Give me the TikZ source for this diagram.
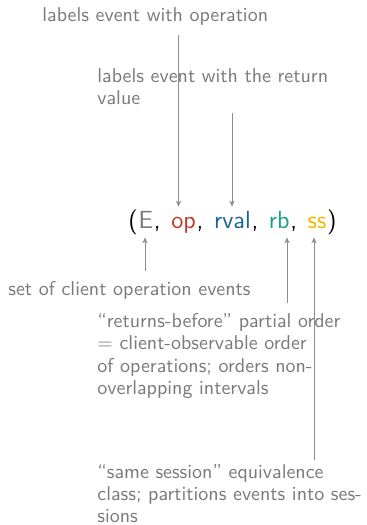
\documentclass[tikz,border=0pt]{standalone}
\usetikzlibrary{arrows.meta}
\definecolor{labelgray}{HTML}{7A7A7A}
\definecolor{linegray}{HTML}{8C8C8C}
\definecolor{opred}{HTML}{C0392B}
\definecolor{rvalblue}{HTML}{1A6496}
\definecolor{rbgreen}{HTML}{16A085}
\definecolor{ssgold}{HTML}{F5B400}
\newcommand{\tuplesep}{,\kern4.9pt}
\begin{document}
\begin{tikzpicture}[x=0.5pt,y=-0.5pt,
  note/.style={font=\sffamily\fontsize{10}{11.15}\selectfont, text=labelgray,
    anchor=base west, inner sep=0pt, align=left},
  block/.style={note, anchor=north west},
  term/.style={font=\sffamily\fontsize{12.4}{14}\selectfont, anchor=base west,
    inner sep=0pt, text height=10.5pt, text depth=4.5pt},
  pointer/.style={draw=linegray, line width=0.5pt,
    -{Stealth[length=3pt,width=2.6pt]}}]
\useasboundingbox[fill=white] (0,0) rectangle (366,525);

% the tuple, one node per component
\node[term] (lp) at (128,228) {(};
\node[term, text=labelgray] (E) at (lp.base east) {E};
\node[term] (c1) at (E.base east) {\tuplesep};
\node[term, text=opred] (op) at (c1.base east) {op};
\node[term] (c2) at (op.base east) {\tuplesep};
\node[term, text=rvalblue] (rval) at (c2.base east) {rval};
\node[term] (c3) at (rval.base east) {\tuplesep};
\node[term, text=rbgreen] (rb) at (c3.base east) {rb};
\node[term] (c4) at (rb.base east) {\tuplesep};
\node[term, text=ssgold] (ss) at (c4.base east) {ss};
\node[term] (rp) at (ss.base east) {)};

% explanations
\node[note] (opnote) at (42,21) {labels event with operation};
\node[block] (rvalnote) at (97,68) {labels event with the return\\value};
\node[note] (Enote) at (8,295) {set of client operation events};
\node[block] (rbnote) at (97,313) {``returns-before'' partial order\\$=$ client-observable order\\of operations; orders non-\\overlapping intervals};
\node[block] (ssnote) at (97,464) {``same session'' equivalence\\class; partitions events into ses-\\sions};

% pointers
\coordinate (optail) at (178.5,35);
\coordinate (rvaltail) at (232,113);
\coordinate (Etail) at (145,271);
\coordinate (rbtail) at (287,303);
\coordinate (sstail) at (314,460);
\draw[pointer] (optail) -- (optail |- op.north);
\draw[pointer] (rvaltail) -- (rvaltail |- rval.north);
\draw[pointer] (Etail) -- (Etail |- E.south);
\draw[pointer] (rbtail) -- (rbtail |- rb.south);
\draw[pointer] (sstail) -- (sstail |- ss.south);
\end{tikzpicture}
\end{document}
